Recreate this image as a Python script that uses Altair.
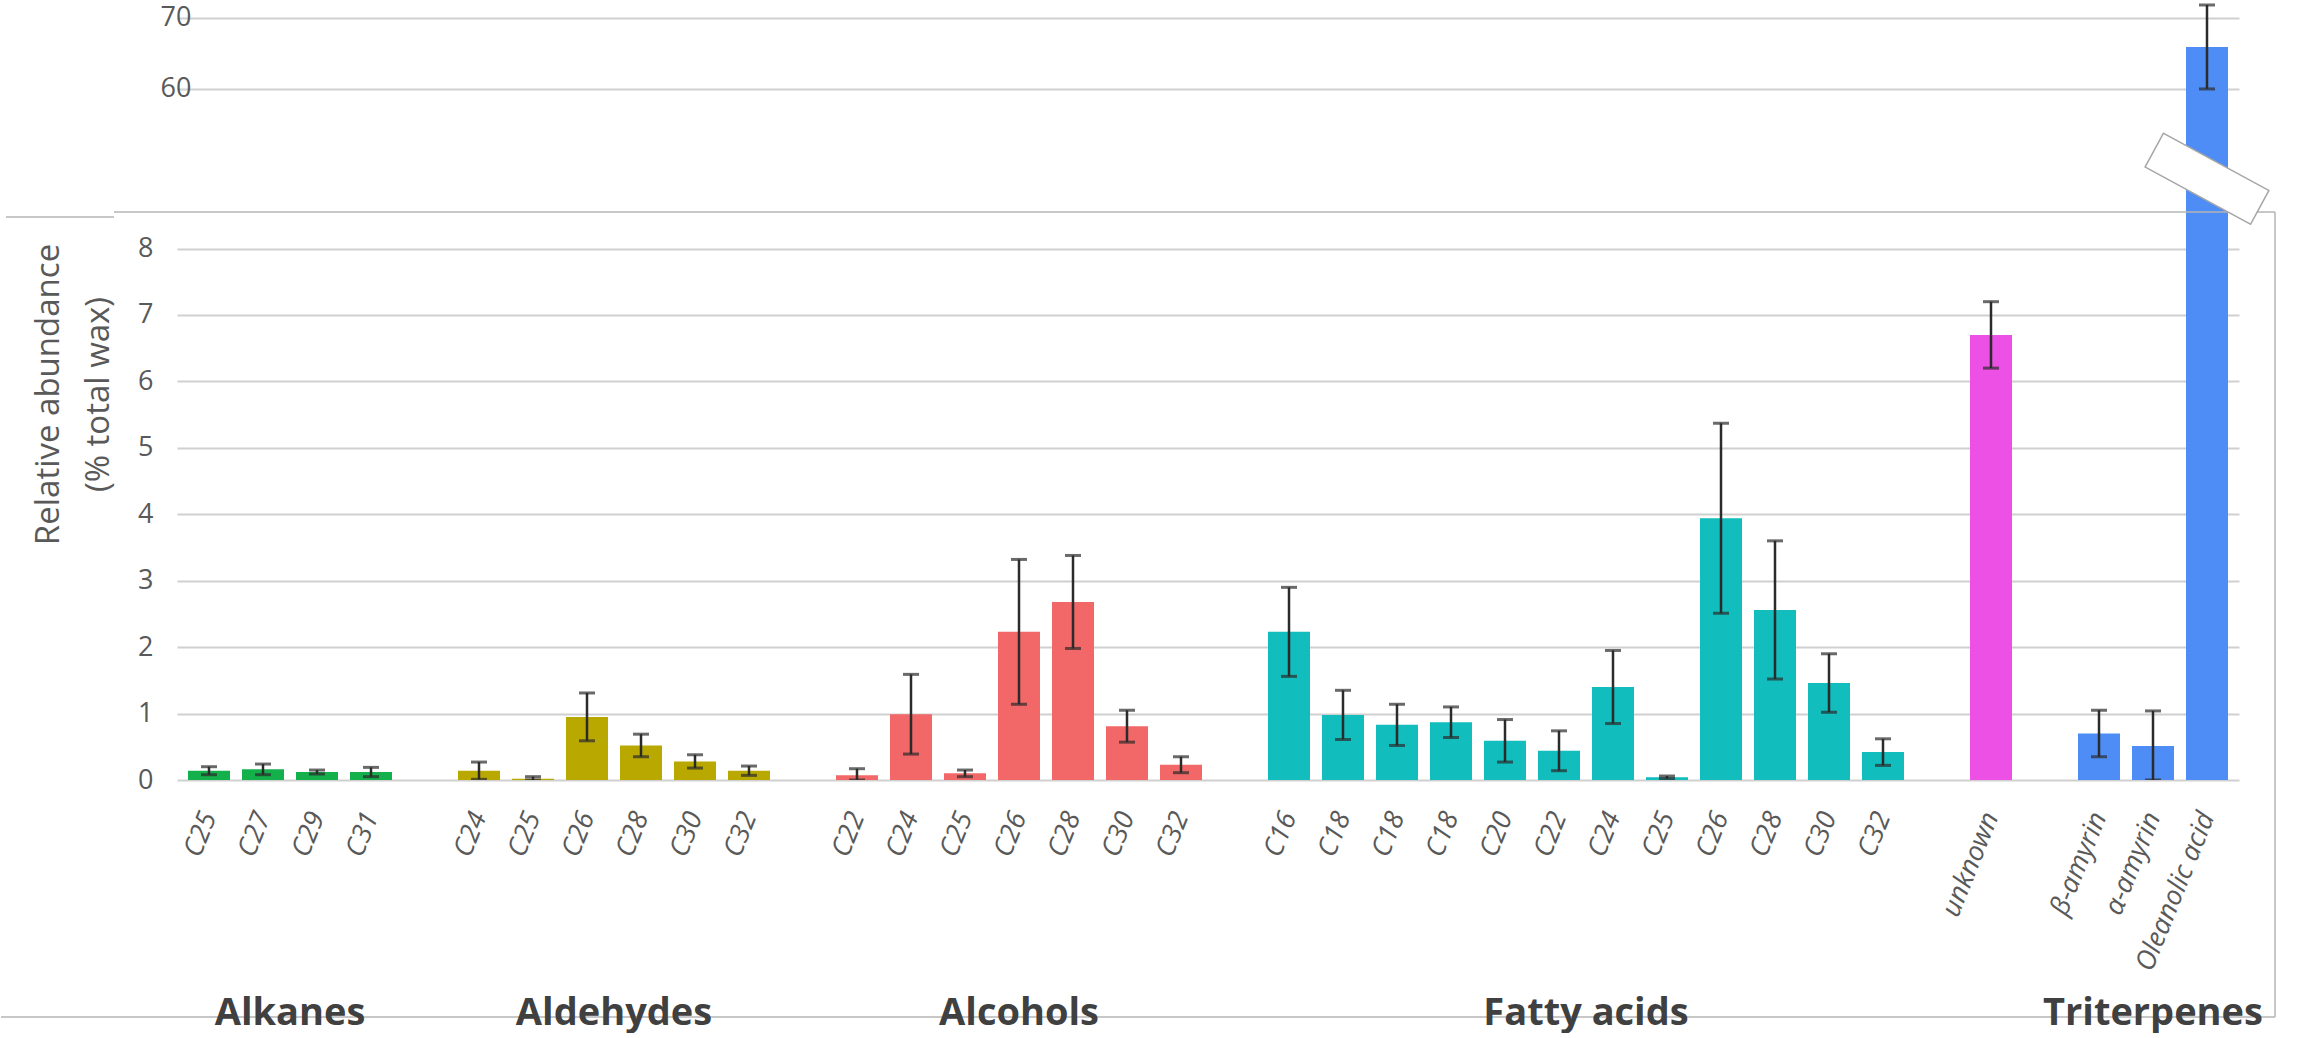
import json
import altair as alt
import pandas as pd

# ---------------- data ----------------
group_names = ["Alkanes", "Aldehydes", "Alcohols", "Fatty acids", "unknown", "Triterpenes"]
group_titles = ["Alkanes", "Aldehydes", "Alcohols", "Fatty acids", "", "Triterpenes"]
group_colors = ["#14B04C", "#B9A800", "#F26767", "#11BDBD", "#EC50E4", "#4E8DF5"]

alk_labels = ["C25", "C27", "C29", "C31"]
alk_values = [0.14, 0.16, 0.12, 0.12]
alk_errors = [0.06, 0.08, 0.03, 0.07]

ald_labels = ["C24", "C25", "C26", "C28", "C30", "C32"]
ald_values = [0.14, 0.02, 0.95, 0.52, 0.28, 0.14]
ald_errors = [0.13, 0.03, 0.36, 0.17, 0.10, 0.07]

alc_labels = ["C22", "C24", "C25", "C26", "C28", "C30", "C32"]
alc_values = [0.07, 0.99, 0.10, 2.23, 2.68, 0.81, 0.23]
alc_errors = [0.10, 0.60, 0.05, 1.09, 0.70, 0.24, 0.12]

fa_labels = ["C16", "C18", "C18", "C18", "C20", "C22", "C24", "C25", "C26", "C28", "C30", "C32"]
fa_values = [2.23, 0.98, 0.83, 0.87, 0.59, 0.44, 1.40, 0.04, 3.94, 2.56, 1.46, 0.42]
fa_errors = [0.67, 0.37, 0.31, 0.23, 0.32, 0.30, 0.55, 0.02, 1.43, 1.04, 0.44, 0.20]

unk_labels = ["unknown"]
unk_values = [6.70]
unk_errors = [0.50]

tri_labels = ["β-amyrin", "α-amyrin", "Oleanolic acid"]
tri_values = [0.70, 0.51, 65.9]
tri_errors = [0.35, 0.53, 5.9]

labels_by_group = [alk_labels, ald_labels, alc_labels, fa_labels, unk_labels, tri_labels]
values_by_group = [alk_values, ald_values, alc_values, fa_values, unk_values, tri_values]
errors_by_group = [alk_errors, ald_errors, alc_errors, fa_errors, unk_errors, tri_errors]

top_ticks = [60, 70]
bottom_ticks = [0, 1, 2, 3, 4, 5, 6, 7, 8]
top_domain = [42.7, 72.5]
bottom_domain = [0, 8.55]
break_y = 9.05

# ---------------- table ----------------
rows = []
slot_labels = []
slot = 0
for gi, (g, labs, vals, errs) in enumerate(zip(group_names, labels_by_group, values_by_group, errors_by_group)):
    if gi > 0:
        slot_labels.append("")
        slot += 1
    for lab, v, e in zip(labs, vals, errs):
        rows.append(dict(slot=slot, label=lab, group=g, value=v, lo=max(0.0, v - e), hi=v + e))
        slot_labels.append(lab)
        slot += 1
n_slots = slot
df = pd.DataFrame(rows)

grp = df.groupby("group", sort=False)["slot"].mean().reset_index()
grp["title"] = grp["group"].map(dict(zip(group_names, group_titles)))
grp = grp[grp["title"] != ""]

brk = df[df["label"] == "Oleanolic acid"][["slot"]]
frame = pd.DataFrame({"a": [0]})

# ---------------- styling ----------------
FONT = "Open Sans"
GRAY = "#595959"
ERR = "#2b2b2b"
W = 2062
H_TOP = 212
H_BOT = 568

xscale = alt.Scale(domain=[-0.5, n_slots - 0.5], nice=False, zero=False)
color = alt.Color("group:N", scale=alt.Scale(domain=group_names, range=group_colors), legend=None)

label_expr = json.dumps(slot_labels, ensure_ascii=False) + "[datum.value]"

x_top = alt.X("slot:Q", scale=xscale, axis=None)
x_bot = alt.X(
    "slot:Q", scale=xscale,
    axis=alt.Axis(
        values=df["slot"].tolist(), labelExpr=label_expr, labelAngle=292,
        labelFont=FONT, labelFontStyle="italic", labelFontSize=27, labelColor=GRAY,
        labelPadding=33, tickSize=0, domain=False, grid=False, title=None,
        labelOverlap=False, labelFlush=False, labelBound=False,
    ),
)

y_top_scale = alt.Scale(domain=top_domain, nice=False, zero=False)
y_bot_scale = alt.Scale(domain=bottom_domain, nice=False, zero=False)

y_top = alt.Y(
    "value:Q", scale=y_top_scale,
    axis=alt.Axis(values=top_ticks, title=None, format="d", labelFont=FONT, labelFontSize=27, labelColor=GRAY,
                  labelPadding=4, offset=-18, tickSize=0, domain=False, grid=True,
                  gridColor="#d0d0d0", gridWidth=2),
)
y_bot = alt.Y(
    "value:Q", scale=y_bot_scale,
    axis=alt.Axis(values=bottom_ticks, format="d", title=["Relative abundance", "(% total wax)"],
                  titleFont=FONT, titleFontSize=33, titleFontWeight="normal", titleColor=GRAY,
                  titleAngle=270, titleX=-129, titleY=182, titleAlign="center", titleBaseline="middle",
                  titleLineHeight=50,
                  labelFont=FONT, labelFontSize=27, labelColor=GRAY, labelPadding=24,
                  tickSize=0, domain=False, grid=True, gridColor="#d0d0d0", gridWidth=2),
)


def panel(x_enc, y_enc, yscale):
    base = alt.Chart(df)
    bars = base.mark_bar(size=42, clip=True).encode(x=x_enc, y=y_enc, color=color)
    rule = base.mark_rule(color=ERR, strokeWidth=2.5, clip=True).encode(
        x=x_enc, y=alt.Y("lo:Q", scale=yscale), y2="hi:Q")
    cap_hi = base.mark_tick(orient="horizontal", size=16, thickness=3, color=ERR, clip=True).encode(
        x=x_enc, y=alt.Y("hi:Q", scale=yscale))
    cap_lo = base.mark_tick(orient="horizontal", size=16, thickness=3, color=ERR, clip=True).encode(
        x=x_enc, y=alt.Y("lo:Q", scale=yscale))
    return [bars, rule, cap_hi, cap_lo]


top = alt.layer(*panel(x_top, y_top, y_top_scale)).properties(width=W, height=H_TOP)

FRAME = "#b4b4b4"
fr = alt.Chart(frame)
frame_lines = [
    fr.mark_rule(color=FRAME, strokeWidth=1.5).encode(x=alt.value(-171), x2=alt.value(-63), y=alt.value(5)),
    fr.mark_rule(color=FRAME, strokeWidth=1.5).encode(x=alt.value(-63), x2=alt.value(2098), y=alt.value(0)),
    fr.mark_rule(color=FRAME, strokeWidth=1.5).encode(x=alt.value(2098), y=alt.value(0), y2=alt.value(805)),
    fr.mark_rule(color=FRAME, strokeWidth=1.5).encode(x=alt.value(-176), x2=alt.value(2098), y=alt.value(805)),
]

group_text = alt.Chart(grp).mark_text(
    font=FONT, fontSize=38, fontWeight="bold", color="#404040", baseline="alphabetic", align="center"
).encode(x=alt.X("slot:Q", scale=xscale), y=alt.value(813), text="title:N")

break_mark = alt.Chart(brk).mark_point(
    shape="M-1,-0.32L1,-0.32L1,0.32L-1,0.32Z", filled=True, fill="white", stroke="#a6a6a6",
    strokeWidth=1.5, size=14400, angle=28.5, opacity=1,
).encode(x=alt.X("slot:Q", scale=xscale), y=alt.datum(break_y))

bottom = alt.layer(
    *panel(x_bot, y_bot, y_bot_scale), *frame_lines, group_text, break_mark
).properties(width=W, height=H_BOT)

chart = alt.vconcat(top, bottom, spacing=0, bounds="flush").properties(
    padding={"left": 0, "top": 0, "right": 0, "bottom": 0},
    background="white",
).configure_view(stroke=None).resolve_scale(y="independent")

chart.save("out.html", embed_options={"renderer": "svg", "actions": False})
